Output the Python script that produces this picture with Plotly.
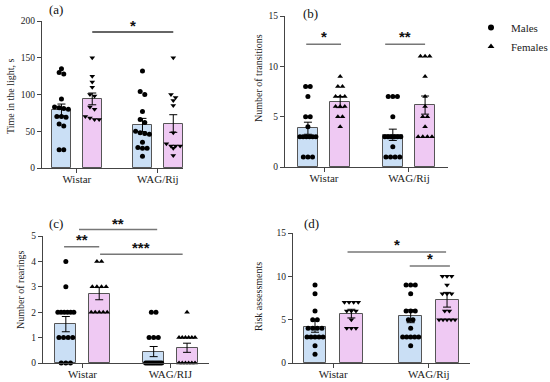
import plotly.graph_objects as go

W, H = 550, 382

# ---------------- data ----------------
groups = ["Wistar", "WAG/Rij"]
groups_c = ["Wistar", "WAG/RIJ"]

# (a) Time in the light, s
a_wm = [135, 130, 128, 94, 83, 82, 81, 80, 70, 69, 70, 60, 57, 25, 25]
a_wf = [150, 125, 117, 110, 100, 98, 83, 80, 70, 68, 66, 66]
a_gm = [132, 104, 100, 77, 66, 62, 50, 48, 47, 46, 35, 28, 27, 27, 16]
a_gf = [150, 100, 96, 92, 85, 48, 33, 30, 30, 30, 27, 17]
a_mean = [79, 94, 58.5, 60.5]
a_sem = [8, 8, 9, 12]

# (b) Number of transitions
b_wm = [8, 8, 7, 5, 5, 4, 3, 3, 3, 3, 3, 3, 1, 1, 1]
b_wf = [9, 8, 8, 7, 7, 7, 6, 6, 6, 5, 5, 4]
b_gm = [7, 7, 7, 5, 3, 3, 3, 3, 3, 3, 2, 1, 1, 1, 1]
b_gf = [11, 11, 11, 9, 7, 6, 5, 5, 4, 3, 3, 3, 3]
b_mean = [3.85, 6.45, 3.2, 6.15]
b_sem = [0.6, 0.55, 0.56, 0.9]

# (c) Number of rearings
c_wm = [4, 3, 2, 2, 2, 2, 2, 2, 1, 1, 1, 1, 0, 0, 0]
c_wf = [4, 4, 3, 3, 3, 3, 2, 2, 2, 2, 2]
c_gm = [2, 2, 1, 1, 1, 0, 0, 0, 0, 0, 0, 0, 0, 0, 0]
c_gf = [2, 1, 1, 1, 1, 1, 1, 0, 0, 0, 0, 0, 0]
c_mean = [1.53, 2.73, 0.45, 0.6]
c_sem = [0.3, 0.24, 0.2, 0.18]

# (d) Risk assessments
d_wm = [9, 8, 6, 5, 5, 4, 4, 4, 4, 3, 3, 3, 3, 3, 2, 1]
d_wf = [7, 7, 7, 7, 6, 6, 6, 5, 4, 4, 4]
d_gm = [9, 9, 9, 8, 6, 6, 6, 5, 5, 4, 3, 3, 3, 3, 3, 2]
d_gf = [10, 10, 10, 9, 8, 8, 8, 6, 6, 5, 5, 5, 5, 5]
d_mean = [4.2, 5.7, 5.4, 7.3]
d_sem = [0.65, 0.5, 0.75, 0.85]

# ---------------- styling ----------------
BLUE = "#cadff5"
PINK = "#efc9f3"
EDGE = "#555555"
FONT = "Liberation Serif"
OFF = 0.19
BW = 0.24

# panel geometry: pixel box + data ranges
panels = {
    "a": dict(px=(42, 183), py=(21, 168), xr=(0.57, 2.31), yr=(0, 200), dt=50,
              title="Time in the light, s", tx=10, ty=96, lab="(a)", lx=56, ly=10,
              data=(a_wm, a_wf, a_gm, a_gf), mean=a_mean, sem=a_sem, fsym="triangle-down",
              cats=groups),
    "b": dict(px=(285, 448), py=(16, 167), xr=(0.54, 2.46), yr=(0, 15), dt=5,
              title="Number of transitions", tx=258, ty=78, lab="(b)", lx=310, ly=14,
              data=(b_wm, b_wf, b_gm, b_gf), mean=b_mean, sem=b_sem, fsym="triangle-up",
              cats=groups),
    "c": dict(px=(43, 209), py=(236, 363), xr=(0.55, 2.44), yr=(0, 5), dt=1,
              title="Number of rearings", tx=20, ty=290, lab="(c)", lx=56, ly=223,
              data=(c_wm, c_wf, c_gm, c_gf), mean=c_mean, sem=c_sem, fsym="triangle-up",
              cats=groups_c),
    "d": dict(px=(293, 470), py=(233, 363), xr=(0.58, 2.43), yr=(0, 15), dt=5,
              title="Risk assessments", tx=258, ty=297, lab="(d)", lx=311, ly=223,
              data=(d_wm, d_wf, d_gm, d_gf), mean=d_mean, sem=d_sem, fsym="triangle-down",
              cats=groups),
}


def to_paper(p, x, y):
    (x0, x1), (y0, y1) = p["px"], p["py"]
    (a0, a1), (b0, b1) = p["xr"], p["yr"]
    px = x0 + (x - a0) / (a1 - a0) * (x1 - x0)
    py = y1 - (y - b0) / (b1 - b0) * (y1 - y0)
    return px / W, 1 - py / H


def swarm(vals, center, ppx, ppy, d=4.6, maxspan=16):
    order = sorted(range(len(vals)), key=lambda i: -vals[i])
    xs = [None] * len(vals)
    clusters = []
    for i in order:
        if clusters and abs(vals[clusters[-1][0]] - vals[i]) * ppy < 3.5:
            clusters[-1].append(i)
        else:
            clusters.append([i])
    for cl in clusters:
        n = len(cl)
        step = min(d, maxspan / (n - 1)) if n > 1 else 0
        for k, i in enumerate(cl):
            xs[i] = center + (k - (n - 1) / 2) * step / ppx
    return xs


fig = go.Figure()
layout = dict(width=W, height=H, margin=dict(l=0, r=0, t=0, b=0, autoexpand=False),
              paper_bgcolor="white", plot_bgcolor="white", bargap=0,
              font=dict(family=FONT, color="#222"), shapes=[], annotations=[])

for idx, key in enumerate(["a", "b", "c", "d"]):
    p = panels[key]
    n = "" if idx == 0 else str(idx + 1)
    xa, ya = "x" + n, "y" + n
    (x0, x1), (y0, y1) = p["px"], p["py"]
    ppx = (x1 - x0) / (p["xr"][1] - p["xr"][0])
    ppy = (y1 - y0) / (p["yr"][1] - p["yr"][0])
    centers = [1 - OFF, 1 + OFF, 2 - OFF, 2 + OFF]
    colors = [BLUE, PINK, BLUE, PINK]
    fig.add_trace(go.Bar(x=centers, y=p["mean"], width=BW, xaxis=xa, yaxis=ya,
                         marker=dict(color=colors, line=dict(color=EDGE, width=1)),
                         showlegend=False, hoverinfo="skip"))
    for j in range(4):
        vals = p["data"][j]
        sym = "circle" if j % 2 == 0 else p["fsym"]
        fig.add_trace(go.Scatter(x=swarm(vals, centers[j], ppx, ppy), y=vals, mode="markers",
                                 xaxis=xa, yaxis=ya, cliponaxis=False, showlegend=False,
                                 marker=dict(symbol=sym, size=5, color="black")))
    fig.add_trace(go.Scatter(x=centers, y=p["mean"], mode="markers", xaxis=xa, yaxis=ya,
                             marker=dict(size=0.1, color="rgba(0,0,0,0)"), showlegend=False,
                             error_y=dict(type="data", array=p["sem"], color="black",
                                          thickness=1, width=4), cliponaxis=False))
    axstyle = dict(showline=True, linecolor="#444", linewidth=1, ticks="outside",
                   ticklen=4, tickcolor="#444", showgrid=False, zeroline=False)
    layout["xaxis" + n] = dict(domain=[x0 / W, x1 / W], range=list(p["xr"]), anchor=ya,
                               tickvals=[1, 2], ticktext=p["cats"], ticklabelstandoff=-3,
                               tickfont=dict(size=11, family=FONT, color="#222"), **axstyle)
    layout["yaxis" + n] = dict(domain=[1 - y1 / H, 1 - y0 / H], range=list(p["yr"]), anchor=xa,
                               dtick=p["dt"], tickfont=dict(size=9.5, family=FONT, color="#222"),
                               **axstyle)
    layout["annotations"].append(dict(text=p["title"], x=p["tx"] / W, y=1 - p["ty"] / H,
                                      xref="paper", yref="paper", textangle=-90, showarrow=False,
                                      xanchor="center", yanchor="middle",
                                      font=dict(size=10, family=FONT, color="#222")))
    layout["annotations"].append(dict(text=p["lab"], x=p["lx"] / W, y=1 - p["ly"] / H,
                                      xref="paper", yref="paper", showarrow=False,
                                      xanchor="center", yanchor="middle",
                                      font=dict(size=13, family=FONT, color="#111")))

# significance markers: (panel, x0, x1, y_line, label, y_label, colour)
sig = [
    ("a", 1.19, 2.19, 185, "*", 194, "#333"),
    ("b", 0.79, 1.20, 12.2, "*", 13.0, "#777"),
    ("b", 1.72, 2.19, 12.2, "**", 13.0, "#777"),
    ("c", 0.96, 1.85, 5.26, "**", 5.5, "#777"),
    ("c", 0.79, 1.19, 4.58, "**", 4.85, "#777"),
    ("c", 1.20, 2.14, 4.28, "***", 4.55, "#777"),
    ("d", 1.15, 2.18, 12.8, "*", 13.7, "#777"),
    ("d", 1.80, 2.22, 11.2, "*", 12.1, "#777"),
]
for key, sx0, sx1, sy, lbl, ly, col in sig:
    p = panels[key]
    X0, Y0 = to_paper(p, sx0, sy)
    X1, _ = to_paper(p, sx1, sy)
    layout["shapes"].append(dict(type="line", xref="paper", yref="paper", x0=X0, x1=X1,
                                 y0=Y0, y1=Y0, line=dict(color=col, width=1.5)))
    LX, LY = to_paper(p, (sx0 + sx1) / 2, ly)
    layout["annotations"].append(dict(text="<b>" + lbl + "</b>", x=LX, y=LY, xref="paper",
                                      yref="paper", showarrow=False, xanchor="center",
                                      yanchor="middle",
                                      font=dict(size=15, family="Liberation Sans", color="#111")))

# legend
fig.add_trace(go.Scatter(x=[None], y=[None], mode="markers", name="Males",
                         marker=dict(symbol="circle", size=6, color="black")))
fig.add_trace(go.Scatter(x=[None], y=[None], mode="markers", name="Females",
                         marker=dict(symbol="triangle-up", size=6, color="black")))
layout["legend"] = dict(x=471 / W, y=1 - 13 / H, xanchor="left", yanchor="top",
                        font=dict(size=11, family=FONT, color="#222"),
                        bgcolor="rgba(0,0,0,0)", itemsizing="trace")
layout["showlegend"] = True

fig.update_layout(**layout)
fig.write_html("out.html", config={"displayModeBar": False},
               post_script="document.body.style.margin='0';document.body.style.overflow='hidden';")
